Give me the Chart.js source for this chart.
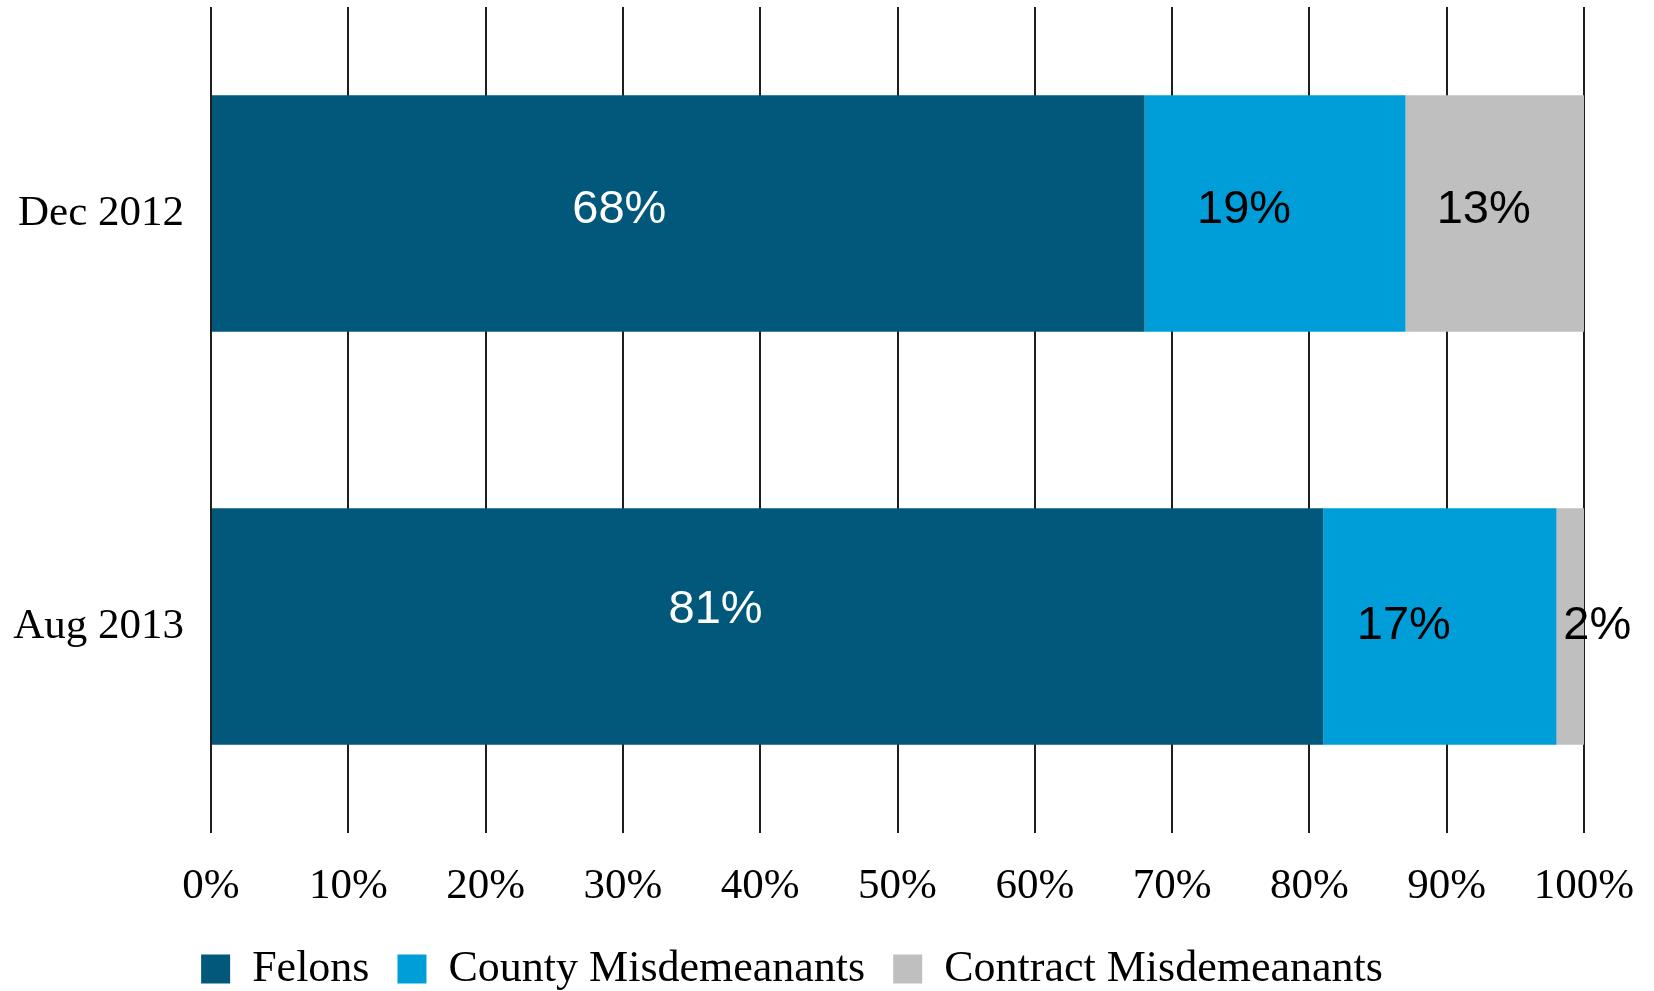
<!DOCTYPE html>
<html>
<head>
<meta charset="utf-8">
<title>Felons vs Misdemeanants</title>
<script src="https://cdn.jsdelivr.net/npm/chart.js@4.4.1/dist/chart.umd.min.js"></script>
<style>
  html, body { margin: 0; padding: 0; background: #fff; overflow: hidden; }
  canvas { display: block; }
</style>
</head>
<body>
<canvas id="graficoPresos" width="1654" height="1001"></canvas>
<script>
// categories and shares (%)
const periodos = ["Dec 2012", "Aug 2013"];
const felons = [68, 81];
const countyMisdemeanants = [19, 17];
const contractMisdemeanants = [13, 2];

const CORES = {
  felons: "#02587A",
  county: "#009ED8",
  contract: "#BFBFBF"
};

const fonteSerif = "'Liberation Serif', 'Times New Roman', serif";
const fonteSans = "'Liberation Sans', Arial, sans-serif";

// small nudges for the in-bar labels [dx, dy], per dataset then per bar
const ajusteRotulos = [
  [[-59, -3], [-52, -16]],
  [[-31, -3], [-36, 0]],
  [[-11, -3], [27, 0]]
];

const rotulosBarras = {
  id: "rotulosBarras",
  afterDatasetsDraw(chart) {
    const ctx = chart.ctx;
    ctx.save();
    ctx.font = "47px " + fonteSans;
    ctx.textAlign = "center";
    ctx.textBaseline = "middle";

    chart.data.datasets.forEach((ds, i) => {
      const meta = chart.getDatasetMeta(i);
      meta.data.forEach((bar, j) => {
        const ajuste = ajusteRotulos[i][j];
        ctx.fillStyle = ds.corRotulo;
        ctx.fillText(ds.data[j] + "%", (bar.x + bar.base) / 2 + ajuste[0], bar.y + ajuste[1]);
      });
    });

    ctx.restore();
  }
};

function montarGrafico() {
  const canvas = document.getElementById("graficoPresos");

  new Chart(canvas, {
    type: "bar",
    data: {
      labels: periodos,
      datasets: [
        {
          label: "Felons",
          data: felons,
          backgroundColor: CORES.felons,
          corRotulo: "#ffffff"
        },
        {
          label: "County Misdemeanants",
          data: countyMisdemeanants,
          backgroundColor: CORES.county,
          corRotulo: "#000000"
        },
        {
          label: "Contract Misdemeanants",
          data: contractMisdemeanants,
          backgroundColor: CORES.contract,
          corRotulo: "#000000"
        }
      ]
    },
    options: {
      indexAxis: "y",
      responsive: false,
      animation: false,
      layout: {
        padding: { top: 7, right: 70, left: 0, bottom: 0 }
      },
      datasets: {
        bar: {
          categoryPercentage: 1,
          barPercentage: 0.573,
          borderWidth: 0
        }
      },
      plugins: {
        tooltip: { enabled: false },
        legend: {
          position: "bottom",
          labels: {
            color: "#000",
            boxWidth: 29,
            boxHeight: 29,
            padding: 28,
            font: { family: fonteSerif, size: 44 }
          }
        }
      },
      scales: {
        x: {
          stacked: true,
          min: 0,
          max: 100,
          ticks: {
            stepSize: 10,
            color: "#000",
            padding: 28,
            maxRotation: 0,
            autoSkip: false,
            font: { family: fonteSerif, size: 43 },
            callback: function(value) {
              return value + "%";
            }
          },
          grid: {
            color: "#1e1e1e",
            lineWidth: 2,
            drawTicks: false
          },
          border: { display: false },
          afterFit: function(scale) {
            scale.height = 86;
            scale.paddingLeft = 0;
            scale.paddingRight = 0;
          }
        },
        y: {
          stacked: true,
          ticks: {
            color: "#000",
            padding: 19,
            font: { family: fonteSerif, size: 43 }
          },
          grid: { display: false },
          border: { display: false },
          afterFit: function(scale) {
            scale.width = 211;
            scale.paddingTop = 0;
            scale.paddingBottom = 0;
          }
        }
      }
    },
    plugins: [rotulosBarras]
  });
}

montarGrafico();
</script>
</body>
</html>
